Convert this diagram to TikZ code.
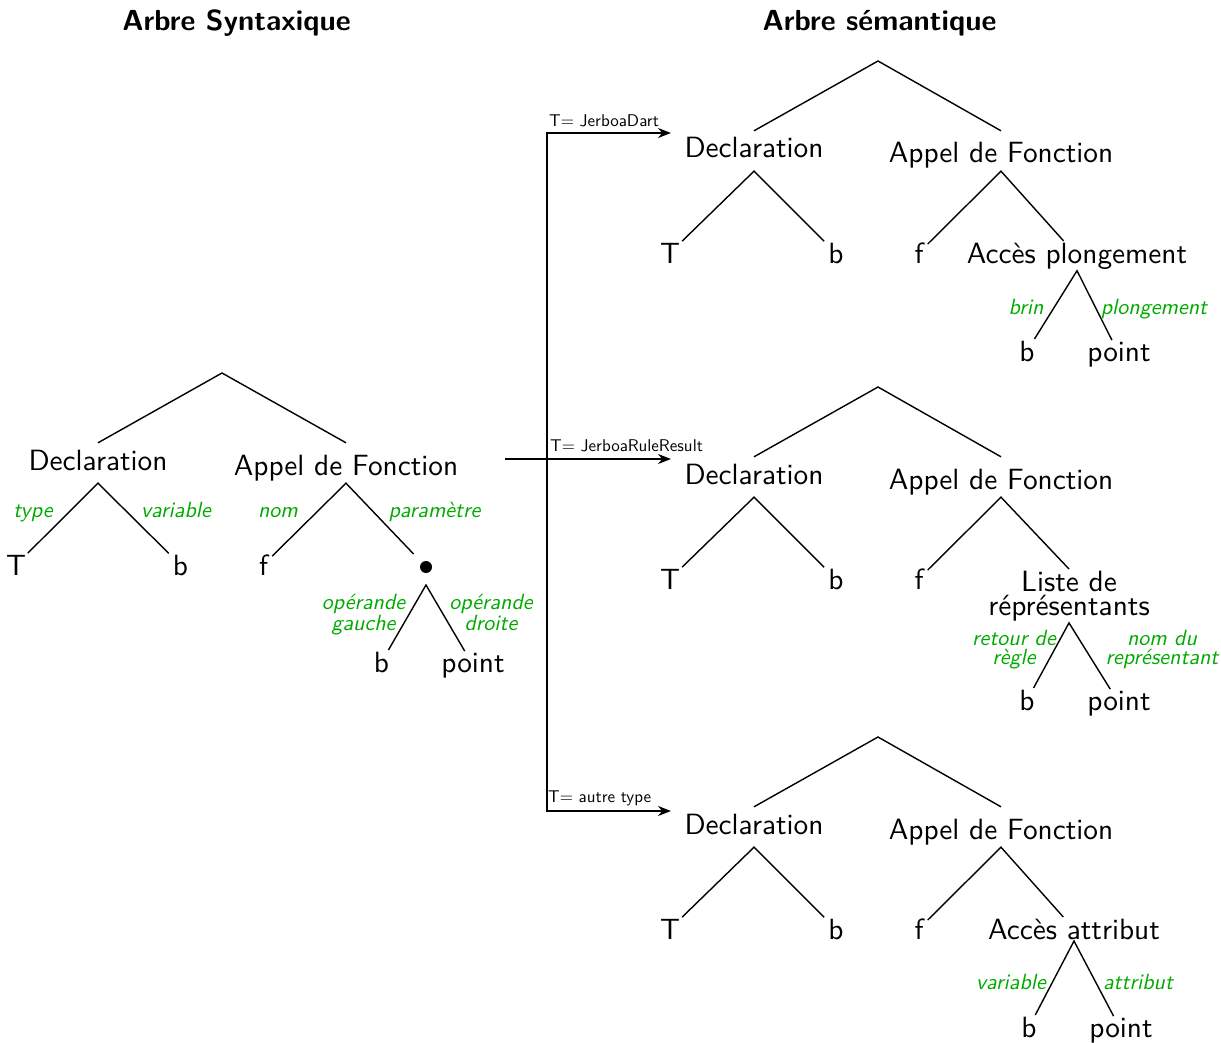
\documentclass[tikz,border=0pt]{standalone}
\usepackage{fontspec}
\setsansfont{lmsans10-regular.otf}[BoldFont=lmsans10-bold.otf, ItalicFont=lmsans10-oblique.otf, BoldItalicFont=lmsans10-boldoblique.otf]
\usetikzlibrary{arrows.meta}
\definecolor{lblgreen}{RGB}{0,170,0}
\begin{document}
\begin{tikzpicture}[x=1pt,y=-1pt,
  mainfont/.style={font=\sffamily\fontsize{29.3}{24.5}\selectfont},
  declnode/.style={mainfont, anchor=base, inner xsep=4pt, inner ysep=0pt, text height=27pt, text depth=13pt},
  appnode/.style={mainfont, anchor=base, inner xsep=4pt, inner ysep=0pt, text height=32pt, text depth=8pt},
  leaf/.style={mainfont, anchor=base, inner xsep=4pt, inner ysep=1.5pt},
  multi/.style={mainfont, anchor=north, inner xsep=4.5pt, inner ysep=1.5pt, align=center},
  lbl/.style={font=\sffamily\itshape\fontsize{22}{18.7}\selectfont, text=lblgreen, anchor=base, inner sep=0pt, align=center},
  arrlbl/.style={font=\sffamily\fontsize{17}{20}\selectfont, anchor=base west, inner sep=0pt},
  titlenode/.style={font=\sffamily\bfseries\fontsize{29}{30}\selectfont, anchor=base, inner sep=0pt},
  dotnode/.style={circle, fill, inner sep=0pt, minimum size=12pt, outer sep=12pt},
  edgeline/.style={line width=1.4pt},
  arr/.style={line width=1.4pt, -{Stealth[length=13pt,width=10pt]}},
]
\useasboundingbox (0,0) rectangle (1221,1043);

% titles
\node[titlenode] (ts) at (236.5,31) {Arbre Syntaxique};
\node[titlenode] (tm) at (879.5,31) {Arbre sémantique};

% ===== left tree =====
\coordinate (r0) at (222,373);
\node[declnode] (d0) at (98,470) {Declaration};
\node[appnode] (a0) at (346,475) {Appel de Fonction};
\draw[edgeline] (d0.north) -- (r0) -- (a0.north);
\node[leaf] (t0) at (16,575) {T};
\node[leaf] (b0) at (180.5,575) {b};
\node[leaf] (f0) at (263.5,575) {f};
\node[dotnode] (p0) at (426,567) {};
\node[leaf] (bb0) at (381.5,672) {b};
\node[leaf] (pt0) at (473,672) {point};
\draw[edgeline] (t0) -- (d0.south) -- (b0);
\draw[edgeline] (f0) -- (a0.south) -- (p0);
\draw[edgeline] (bb0) -- (p0.south) -- (pt0);
\node[lbl] (l01) at (33,517) {type};
\node[lbl] (l02) at (176,517) {variable};
\node[lbl] (l03) at (278,517) {nom};
\node[lbl] (l04) at (434.5,517) {paramètre};
\node[lbl, anchor=north] (l05) at (363.5,594.5) {opérande\\gauche};
\node[lbl, anchor=north] (l06) at (491,594.5) {opérande\\droite};

% ===== arrows =====
\coordinate (src) at (505,459);
\coordinate (jm) at (547,459);
\coordinate (g1) at (671,133);
\coordinate (g2) at (671,459);
\coordinate (g3) at (671,811);
\draw[arr] (src) -- (g2);
\draw[arr] (jm) |- (g1);
\draw[arr] (jm) |- (g3);
\node[arrlbl] (al1) at (549,127) {T= JerboaDart};
\node[arrlbl] (al2) at (550,451) {T= JerboaRuleResult};
\node[arrlbl] (al3) at (548,802) {T= autre type};

% ===== top right tree =====
\coordinate (r1) at (878,61);
\node[declnode] (d1) at (754,158) {Declaration};
\node[appnode] (a1) at (1001,163) {Appel de Fonction};
\draw[edgeline] (d1.north) -- (r1) -- (a1.north);
\node[leaf] (t1) at (670,263) {T};
\node[leaf] (b1) at (836,263) {b};
\node[leaf] (f1) at (919,263) {f};
\node[leaf] (c1) at (1077,263) {Accès plongement};
\node[leaf] (bb1) at (1027,361) {b};
\node[leaf] (pt1) at (1119,361) {point};
\draw[edgeline] (t1) -- (d1.south) -- (b1);
\draw[edgeline] (f1) -- (a1.south) -- (c1);
\draw[edgeline] (bb1) -- (c1.south) -- (pt1);
\node[lbl] (l11) at (1026,314) {brin};
\node[lbl] (l12) at (1154,314) {plongement};

% ===== middle right tree =====
\coordinate (r2) at (878,387);
\node[declnode] (d2) at (754,484) {Declaration};
\node[appnode] (a2) at (1001,489) {Appel de Fonction};
\draw[edgeline] (d2.north) -- (r2) -- (a2.north);
\node[leaf] (t2) at (670,589) {T};
\node[leaf] (b2) at (836,589) {b};
\node[leaf] (f2) at (919,589) {f};
\node[multi] (c2) at (1069,569) {Liste de\\réprésentants};
\node[leaf] (bb2) at (1027,710) {b};
\node[leaf] (pt2) at (1119,710) {point};
\draw[edgeline] (t2) -- (d2.south) -- (b2);
\draw[edgeline] (f2) -- (a2.south) -- (c2.north);
\draw[edgeline] (bb2) -- (c2.south) -- (pt2);
\node[lbl, anchor=north] (l21) at (1014,630.5) {retour de\\règle};
\node[lbl, anchor=north] (l22) at (1162,630.5) {nom du\\représentant};

% ===== bottom right tree =====
\coordinate (r3) at (878,737);
\node[declnode] (d3) at (754,834) {Declaration};
\node[appnode] (a3) at (1001,839) {Appel de Fonction};
\draw[edgeline] (d3.north) -- (r3) -- (a3.north);
\node[leaf] (t3) at (670,939) {T};
\node[leaf] (b3) at (836,939) {b};
\node[leaf] (f3) at (919,939) {f};
\node[leaf] (c3) at (1074,939) {Accès attribut};
\node[leaf] (bb3) at (1029,1037) {b};
\node[leaf] (pt3) at (1121,1037) {point};
\draw[edgeline] (t3) -- (d3.south) -- (b3);
\draw[edgeline] (f3) -- (a3.south) -- (c3);
\draw[edgeline] (bb3) -- (c3.south) -- (pt3);
\node[lbl] (l31) at (1011,989) {variable};
\node[lbl] (l32) at (1138,989) {attribut};
\end{tikzpicture}
\end{document}
